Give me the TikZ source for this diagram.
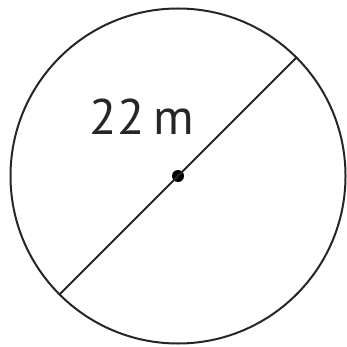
\documentclass[tikz,border=0pt]{standalone}
\usepackage{fontspec}
\setmainfont{PT Sans}
\begin{document}
\begin{tikzpicture}[
  x=1pt,y=-1pt,
  rand/.style={draw=black!85,line width=2pt},
  durchm/.style={draw=black!85,line width=2pt},
  punkt/.style={circle,fill=black,inner sep=0pt,minimum size=12pt},
  mass/.style={font=\fontsize{50}{50}\selectfont,text=black!85,inner sep=0pt}
]
\useasboundingbox (0,0) rectangle (346,347);
%% Kreis
\coordinate (M) at (178,176);
\node[punkt] (Mp) at (M) {};
\draw[rand] (M) circle[radius=167.5];
%% Durchmesser
\coordinate (A) at (296.4,57.6);
\coordinate (B) at (59.6,294.4);
\draw[durchm] (A) -- (B);
%% Beschriftung
\node[mass] (L) at (142,117) {22\hspace{0.18em}m};
\end{tikzpicture}
\end{document}
